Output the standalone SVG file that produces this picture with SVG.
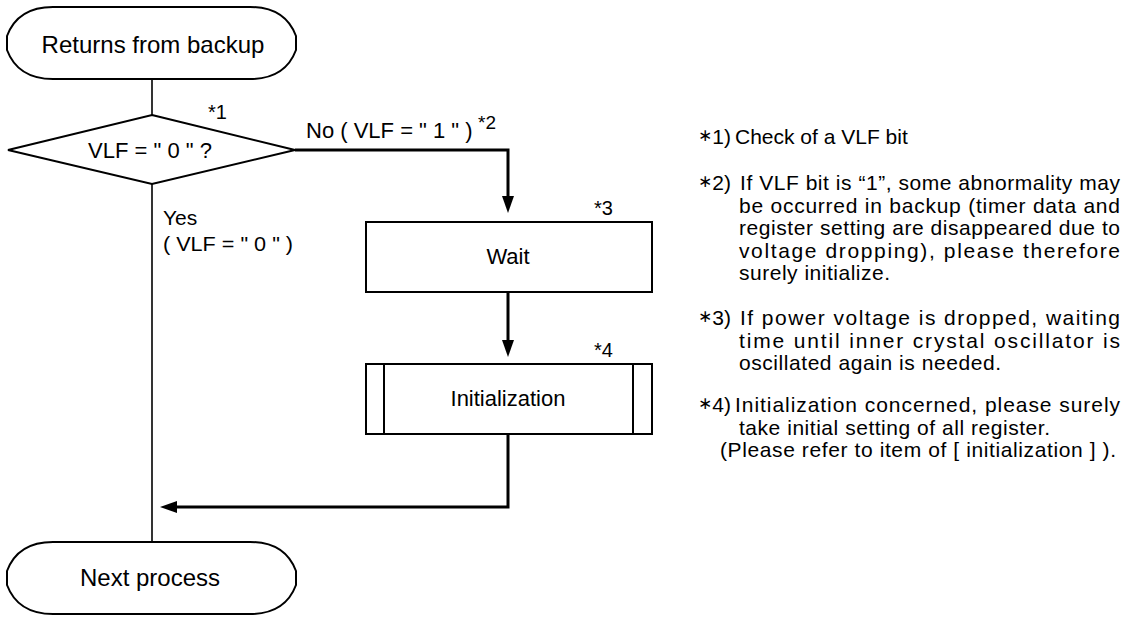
<svg xmlns="http://www.w3.org/2000/svg" width="1133" height="617" viewBox="0 0 1133 617">
<style>
text{font-family:"Liberation Sans",Arial,sans-serif;fill:#000}
.node{fill:#fff;stroke:#000;stroke-width:2}
.thin{fill:none;stroke:#000;stroke-width:1.6}
.flow{fill:none;stroke:#000;stroke-width:3}
.head{fill:#000;stroke:none}
.lbl{font-size:22px;text-anchor:middle}
.term{font-size:24px;text-anchor:middle}
.mark{font-size:20px}
.note{font-size:21px}
.ast{font-size:17px;font-family:"DejaVu Sans",sans-serif}
</style>
<rect width="1133" height="617" fill="#fff"/>
<g id="connectors">
<line class="thin" x1="152" y1="79" x2="152" y2="115"/>
<line class="thin" x1="152" y1="184" x2="152" y2="542"/>
<path class="flow" d="M295,150 H508 V199"/>
<polygon class="head" points="502,196 514,196 508,213"/>
<path class="flow" d="M508,292 V343"/>
<polygon class="head" points="502,340 514,340 508,357"/>
<path class="flow" d="M508,434 V507 H174"/>
<polygon class="head" points="177,501 177,513 160,507"/>
<text x="306" y="138" style="font-size:22px">No ( VLF = " 1 " )</text>
<text x="478" y="129" style="font-size:19px">*2</text>
<text x="163" y="225" style="font-size:21px">Yes</text>
<text x="163" y="251" style="font-size:21px" textLength="130" lengthAdjust="spacingAndGlyphs">( VLF = " 0 " )</text>
</g>
<g id="start">
<path class="node" d="M53,7 H250 C278,7 290,20 296,36 V50 C290,66 278,79 250,79 H53 C25,79 13,66 7,50 V36 C13,20 25,7 53,7 Z"/>
<text class="term" x="153" y="53">Returns from backup</text>
</g>
<g id="decision">
<polygon class="node" points="152,115 295,150 152,184 8,150"/>
<text class="lbl" x="150" y="158">VLF = " 0 " ?</text>
<text class="mark" x="208" y="119">*1</text>
</g>
<g id="wait">
<rect class="node" x="366" y="222" width="286" height="70"/>
<text class="lbl" x="508" y="264">Wait</text>
<text class="mark" x="594" y="215">*3</text>
</g>
<g id="init">
<rect class="node" x="366" y="364" width="286" height="70"/>
<line class="node" x1="384" y1="364" x2="384" y2="434"/>
<line class="node" x1="633" y1="364" x2="633" y2="434"/>
<text class="lbl" x="508" y="406">Initialization</text>
<text class="mark" x="594" y="357">*4</text>
</g>
<g id="end">
<path class="node" d="M53,542 H250 C278,542 290,555 296,571 V585 C290,601 278,614 250,614 H53 C25,614 13,601 7,585 V571 C13,555 25,542 53,542 Z"/>
<text class="term" x="150" y="586">Next process</text>
</g>
<g id="notes">
<text class="note" x="698" y="144"><tspan class="ast" dy="-3">∗</tspan><tspan dy="3">1)</tspan></text>
<text class="note" x="735" y="144">Check of a VLF bit</text>
<text class="note" x="698" y="190"><tspan class="ast" dy="-3">∗</tspan><tspan dy="3">2)</tspan></text>
<text class="note" x="740" y="190" textLength="380" lengthAdjust="spacing">If VLF bit is “1”, some abnormality may</text>
<text class="note" x="739" y="212.5" textLength="381" lengthAdjust="spacing">be occurred in backup (timer data and</text>
<text class="note" x="739" y="235" textLength="381" lengthAdjust="spacing">register setting are disappeared due to</text>
<text class="note" x="739" y="257.5" textLength="381" lengthAdjust="spacing">voltage dropping), please therefore</text>
<text class="note" x="739" y="280" textLength="151" lengthAdjust="spacing">surely initialize.</text>
<text class="note" x="698" y="325"><tspan class="ast" dy="-3">∗</tspan><tspan dy="3">3)</tspan></text>
<text class="note" x="740" y="325" textLength="380" lengthAdjust="spacing">If power voltage is dropped, waiting</text>
<text class="note" x="739" y="347.5" textLength="381" lengthAdjust="spacing">time until inner crystal oscillator is</text>
<text class="note" x="739" y="370" textLength="262" lengthAdjust="spacing">oscillated again is needed.</text>
<text class="note" x="698" y="412"><tspan class="ast" dy="-3">∗</tspan><tspan dy="3">4)</tspan></text>
<text class="note" x="735" y="412" textLength="385" lengthAdjust="spacing">Initialization concerned, please surely</text>
<text class="note" x="739" y="434.5" textLength="311" lengthAdjust="spacing">take initial setting of all register.</text>
<text class="note" x="720" y="457" textLength="396" lengthAdjust="spacing">(Please refer to  item of [ initialization ] ).</text>
</g>
</svg>
